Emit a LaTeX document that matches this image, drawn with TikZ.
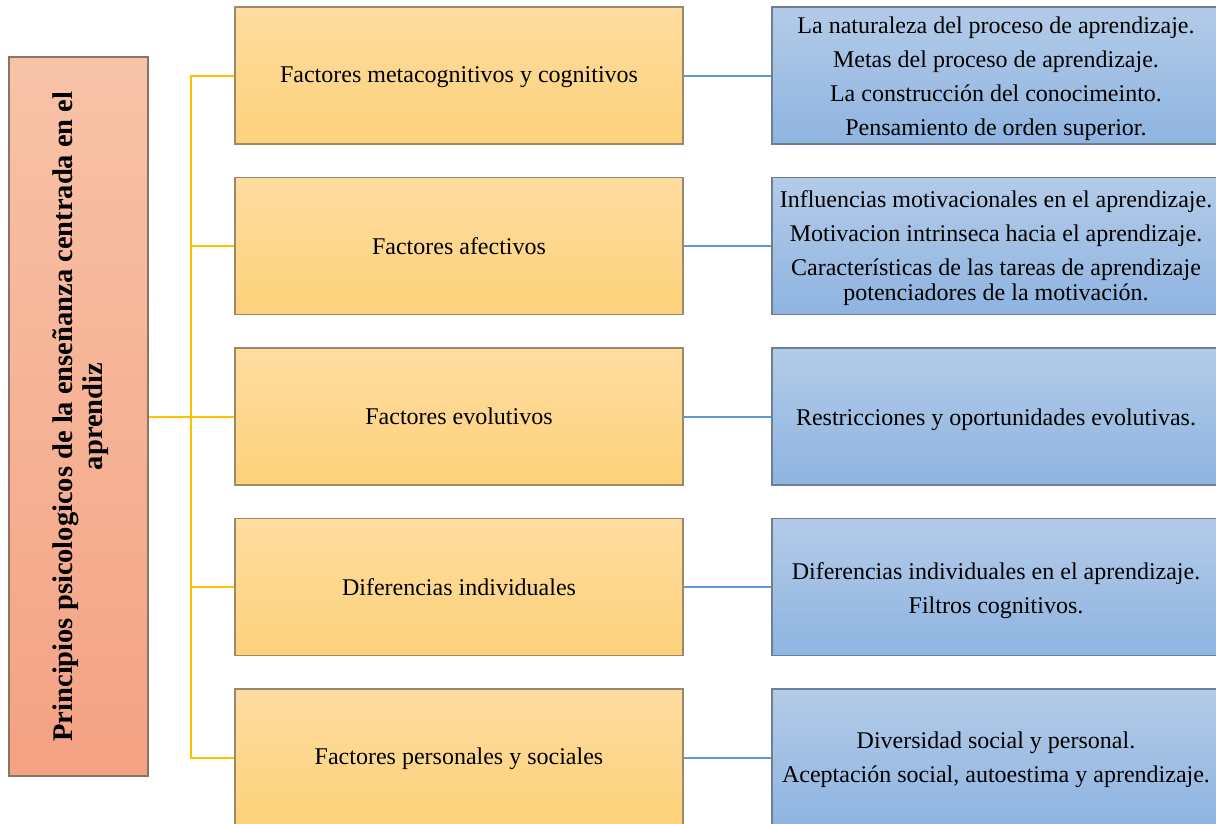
\documentclass[tikz,border=0pt]{standalone}
\usepackage{fontspec}
\setmainfont{Liberation Serif}
\usepackage{graphicx}
\definecolor{roottop}{HTML}{F7C3A8}
\definecolor{rootbot}{HTML}{F4A283}
\definecolor{rootborder}{HTML}{8B7366}
\definecolor{midtop}{HTML}{FEDCA0}
\definecolor{midbot}{HTML}{FDD27A}
\definecolor{midborder}{HTML}{9A8A6A}
\definecolor{leaftop}{HTML}{B3CBE8}
\definecolor{leafbot}{HTML}{8EB4E0}
\definecolor{leafborder}{HTML}{6E7F93}
\definecolor{yel}{HTML}{FFC000}
\definecolor{blu}{HTML}{5B9BD5}
\newcommand\lowtext[2]{\raisebox{-#1}[\height][\depth]{\begin{tabular}{@{}c@{}}#2\end{tabular}}}
\begin{document}
\begin{tikzpicture}[x=1pt,y=-1pt,
  rootbox/.style={draw=rootborder, line width=1.3pt, top color=roottop, bottom color=rootbot,
    minimum width=139pt, minimum height=719pt, inner sep=0pt},
  midbox/.style={draw=midborder, line width=1.3pt, top color=midtop, bottom color=midbot,
    minimum width=448pt, minimum height=137pt, inner sep=0pt, align=center,
    font=\fontsize{24}{25}\selectfont},
  leafbox/.style={draw=leafborder, line width=1.3pt, top color=leaftop, bottom color=leafbot,
    minimum width=448pt, minimum height=137pt, inner sep=0pt, align=center,
    font=\fontsize{24}{25}\selectfont},
  yline/.style={draw=yel, line width=2pt},
  bline/.style={draw=blu, line width=2pt}]
\useasboundingbox (0,0) rectangle (1216,823);
\clip (0,0) rectangle (1216,823);

\node[rootbox] (root) at (78.5,416.5) {\hspace*{6pt}\rotatebox{90}{\fontsize{28.5}{30}\selectfont\bfseries
  \begin{tabular}{@{}c@{}}Principios psicologicos de la enseñanza centrada en el\\ aprendiz\end{tabular}}};

\node[midbox] (m1) at (459,75.5) {\lowtext{2pt}{Factores metacognitivos y cognitivos}};
\node[midbox] (m2) at (459,246) {Factores afectivos};
\node[midbox] (m3) at (459,416.5) {Factores evolutivos};
\node[midbox] (m4) at (459,587) {Diferencias individuales};
\node[midbox] (m5) at (459,757.5) {\lowtext{2pt}{Factores personales y sociales}};

\node[leafbox] (l1) at (996,75.5) {\lowtext{4pt}{La naturaleza del proceso de aprendizaje.\\[9pt]
  Metas del proceso de aprendizaje.\\[9pt]
  La construcción del conocimeinto.\\[9pt]
  Pensamiento de orden superior.}};
\node[leafbox] (l2) at (996,246) {\lowtext{3pt}{Influencias motivacionales en el aprendizaje.\\[9pt]
  Motivacion intrinseca hacia el aprendizaje.\\[9pt]
  Características de las tareas de aprendizaje\\
  potenciadores de la motivación.}};
\node[leafbox] (l3) at (996,416.5) {\lowtext{4pt}{Restricciones y oportunidades evolutivas.}};
\node[leafbox] (l4) at (996,587) {\lowtext{4pt}{Diferencias individuales en el aprendizaje.\\[9pt]
  Filtros cognitivos.}};
\node[leafbox] (l5) at (996,757.5) {\lowtext{3pt}{Diversidad social y personal.\\[9pt]
  Aceptación social, autoestima y aprendizaje.}};

\coordinate (trunk) at (191,416.5);
\draw[yline] (root.east) -- (trunk);
\foreach \i in {1,...,5} {
  \draw[yline] (trunk) |- (m\i.west);
  \draw[bline] (m\i.east) -- (l\i.west);
}
\end{tikzpicture}
\end{document}
